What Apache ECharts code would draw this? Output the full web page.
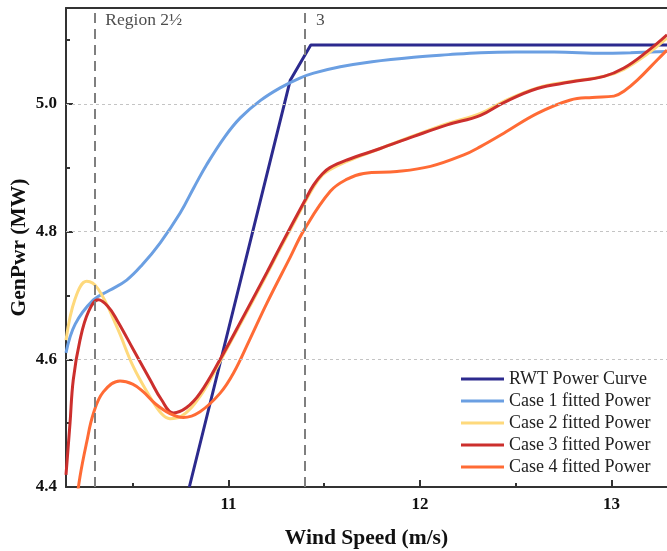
<!DOCTYPE html>
<html>
<head>
<meta charset="utf-8">
<script src="https://cdn.jsdelivr.net/npm/echarts@6/dist/echarts.min.js"></script>
<style>
  html, body { margin: 0; padding: 0; background: #fff; }
  #chart { width: 667px; height: 551px; }
</style>
</head>
<body>
<div id="chart"></div>
<script>
// axis ticks
const xMajor = [11, 12, 13];
const xMinor = [10.5, 11.5, 12.5];
const yMajor = [4.4, 4.6, 4.8, 5.0];
const yMinor = [4.5, 4.7, 4.9, 5.1];
const gridY = [4.6, 4.8, 5.0];
const regionX = [10.3, 11.4];
const regionNames = ['Region 2½', '3'];

// RWT power curve
const rwtX = [10.796, 11.323, 11.43, 13.29];
const rwtY = [4.40, 5.037, 5.092, 5.092];

// Case 1
const case1X = [10.152, 10.20, 10.295, 10.38, 10.469, 10.55, 10.643, 10.748, 10.82, 10.887, 10.98, 11.062, 11.166, 11.27, 11.37, 11.445, 11.584, 11.75, 11.968, 12.15, 12.316, 12.5, 12.7, 12.961, 13.1, 13.29];
const case1Y = [4.610, 4.655, 4.693, 4.708, 4.724, 4.748, 4.782, 4.829, 4.869, 4.905, 4.948, 4.978, 5.005, 5.025, 5.040, 5.048, 5.058, 5.066, 5.073, 5.077, 5.080, 5.081, 5.081, 5.079, 5.080, 5.082];

// Case 2
const case2X = [10.152, 10.20, 10.26, 10.32, 10.417, 10.504, 10.591, 10.65, 10.695, 10.75, 10.852, 10.957, 11.08, 11.201, 11.27, 11.40, 11.445, 11.49, 11.53, 11.619, 11.793, 11.968, 12.142, 12.316, 12.438, 12.613, 12.786, 12.961, 13.065, 13.187, 13.29];
const case2Y = [4.630, 4.695, 4.722, 4.710, 4.651, 4.588, 4.541, 4.515, 4.507, 4.510, 4.542, 4.597, 4.665, 4.733, 4.773, 4.846, 4.870, 4.888, 4.897, 4.910, 4.930, 4.950, 4.969, 4.985, 5.004, 5.025, 5.035, 5.043, 5.054, 5.078, 5.103];

// Case 3
const case3X = [10.152, 10.173, 10.19, 10.225, 10.27, 10.321, 10.37, 10.417, 10.504, 10.591, 10.65, 10.713, 10.78, 10.852, 10.957, 11.08, 11.201, 11.27, 11.40, 11.445, 11.49, 11.53, 11.619, 11.793, 11.968, 12.142, 12.316, 12.438, 12.613, 12.786, 12.961, 13.065, 13.187, 13.29];
const case3Y = [4.419, 4.500, 4.568, 4.630, 4.675, 4.693, 4.683, 4.662, 4.615, 4.568, 4.537, 4.516, 4.524, 4.547, 4.600, 4.668, 4.736, 4.776, 4.849, 4.873, 4.890, 4.900, 4.912, 4.930, 4.949, 4.967, 4.982, 5.002, 5.024, 5.034, 5.043, 5.056, 5.082, 5.108];

// Case 4
const case4X = [10.20, 10.225, 10.26, 10.295, 10.347, 10.434, 10.50, 10.556, 10.62, 10.695, 10.765, 10.852, 10.957, 11.026, 11.11, 11.201, 11.323, 11.396, 11.532, 11.62, 11.706, 11.88, 12.055, 12.229, 12.316, 12.438, 12.613, 12.786, 12.90, 13.013, 13.07, 13.135, 13.24, 13.29];
const case4Y = [4.360, 4.416, 4.470, 4.515, 4.549, 4.566, 4.561, 4.549, 4.530, 4.515, 4.509, 4.518, 4.547, 4.578, 4.630, 4.688, 4.760, 4.803, 4.863, 4.882, 4.891, 4.894, 4.902, 4.920, 4.933, 4.954, 4.985, 5.006, 5.010, 5.012, 5.021, 5.037, 5.069, 5.084];

const seriesNames = ['RWT Power Curve', 'Case 1 fitted Power', 'Case 2 fitted Power', 'Case 3 fitted Power', 'Case 4 fitted Power'];
const seriesColors = ['#2c2a8e', '#6b9fe2', '#fed97c', '#cc2f2d', '#ff6b35'];

const zip = (xs, ys) => xs.map((x, i) => [x, ys[i]]);
const curves = [zip(rwtX, rwtY), zip(case1X, case1Y), zip(case2X, case2Y), zip(case3X, case3Y), zip(case4X, case4Y)];

const xMin = 10.152, xMax = 13.29, yMin = 4.4, yMax = 5.15;
const font = 'Liberation Serif';
const axisColor = '#333';

const chart = echarts.init(document.getElementById('chart'));

const option = {
  animation: false,
  grid: { left: 66, right: 0, top: 8, bottom: 64, outerBoundsMode: 'none' },
  legend: {
    data: seriesNames,
    orient: 'vertical',
    left: 456,
    top: 365,
    icon: 'rect',
    itemWidth: 43,
    itemHeight: 3,
    itemGap: 4,
    textStyle: { fontFamily: font, fontSize: 18, color: '#222', lineHeight: 18 }
  },
  xAxis: [
    {
      type: 'value', min: xMin, max: xMax,
      name: 'Wind Speed (m/s)', nameLocation: 'middle', nameGap: 40, nameMoveOverlap: false,
      nameTextStyle: { fontFamily: font, fontSize: 21.5, fontWeight: 'bold', color: '#111' },
      axisLine: { lineStyle: { color: axisColor, width: 2 } },
      axisTick: { inside: true, length: 7, customValues: xMajor, lineStyle: { color: axisColor, width: 2 } },
      axisLabel: { customValues: xMajor, margin: 9, fontFamily: font, fontSize: 17, fontWeight: 'bold', color: '#111' },
      splitLine: { show: false }
    },
    {
      type: 'value', min: xMin, max: xMax, position: 'bottom',
      axisLine: { show: false },
      axisTick: { inside: true, length: 4, customValues: xMinor, lineStyle: { color: axisColor, width: 2 } },
      axisLabel: { show: false },
      splitLine: { show: false }
    },
    {
      type: 'value', min: xMin, max: xMax, position: 'top',
      axisLine: { lineStyle: { color: axisColor, width: 2 } },
      axisTick: { show: false },
      axisLabel: { show: false },
      splitLine: { show: false }
    }
  ],
  yAxis: [
    {
      type: 'value', min: yMin, max: yMax,
      name: 'GenPwr (MW)', nameLocation: 'middle', nameGap: 36, nameMoveOverlap: false,
      nameTextStyle: { fontFamily: font, fontSize: 21.5, fontWeight: 'bold', color: '#111' },
      axisLine: { lineStyle: { color: axisColor, width: 2 } },
      axisTick: { inside: true, length: 7, customValues: yMajor, lineStyle: { color: axisColor, width: 2 } },
      axisLabel: {
        customValues: yMajor, margin: 9, fontFamily: font, fontSize: 17, fontWeight: 'bold', color: '#111',
        formatter: (v) => v.toFixed(1)
      },
      splitLine: { show: false }
    },
    {
      type: 'value', min: yMin, max: yMax, position: 'left',
      axisLine: { show: false },
      axisTick: { inside: true, length: 4, customValues: yMinor, lineStyle: { color: axisColor, width: 2 } },
      axisLabel: { show: false },
      splitLine: { show: false }
    }
  ],
  series: [
    {
      name: 'guides',
      type: 'line',
      data: [],
      z: 1,
      markLine: {
        silent: true,
        symbol: 'none',
        label: { show: false },
        data: gridY.map((v) => ({ yAxis: v, lineStyle: { color: '#c4c4c4', width: 1, type: [3, 3] } }))
          .concat(regionX.map((v) => ({ xAxis: v, lineStyle: { color: '#7f7f7f', width: 2, type: [10, 6] } })))
      }
    },
    {
      name: 'region labels',
      type: 'scatter',
      symbolSize: 0,
      z: 3,
      data: regionX.map((x, i) => ({ value: [x, 5.131], name: regionNames[i] })),
      label: {
        show: true, position: 'right', distance: 11,
        formatter: (p) => p.name,
        fontFamily: font, fontSize: 17.5, color: '#222'
      }
    }
  ].concat(curves.map((d, i) => ({
    name: seriesNames[i],
    type: 'line',
    data: d,
    z: 2,
    smooth: i === 0 ? false : 0.4,
    showSymbol: false,
    color: seriesColors[i],
    lineStyle: { width: 3, color: seriesColors[i] }
  })))
};

chart.setOption(option);
</script>
</body>
</html>
